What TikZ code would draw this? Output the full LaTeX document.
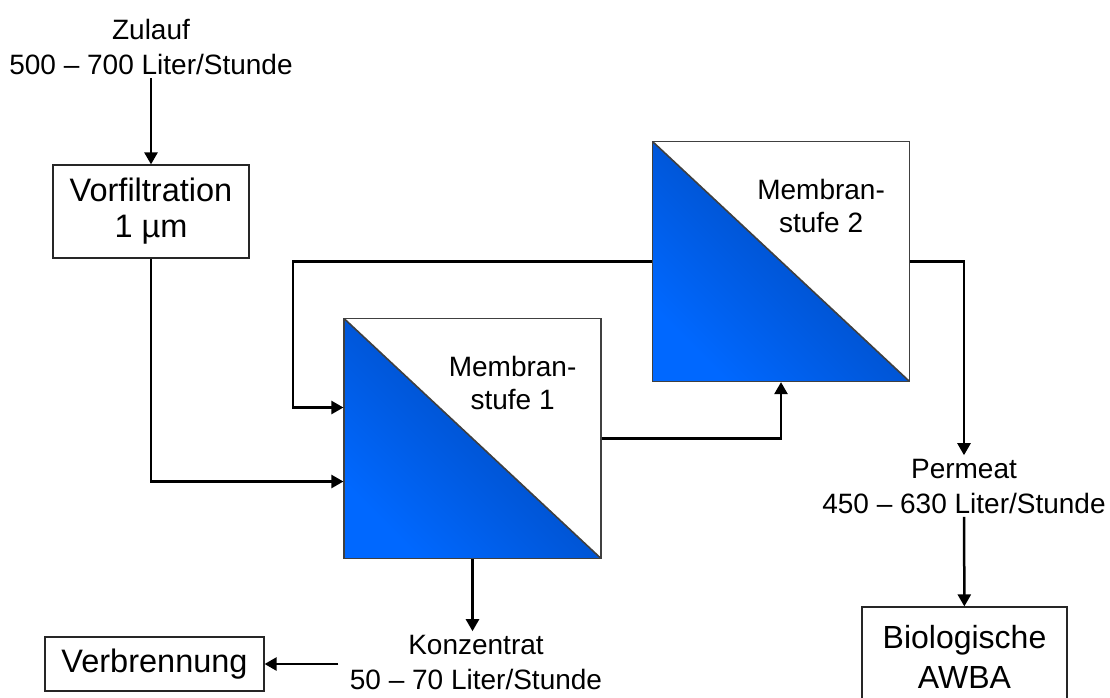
\documentclass[tikz,border=0pt]{standalone}
\usepackage{fontspec}
\setmainfont{Liberation Sans}
\usetikzlibrary{arrows.meta, positioning}
\definecolor{memlight}{RGB}{0,104,255}
\definecolor{memdark}{RGB}{0,68,176}

\begin{document}
\begin{tikzpicture}[x=1pt, y=-1pt,
    box/.style={draw=black!85, line width=1.2pt, fill=white, align=center,
                inner sep=0pt, font=\fontsize{32.5}{36}\selectfont},
    mem/.style={draw=black!75, line width=1.2pt, fill=white, inner sep=0pt,
                minimum width=257pt, minimum height=240pt,
                path picture={
                  \shade[shading=axis, top color=memdark, bottom color=memlight, shading angle=-45]
                    (path picture bounding box.north west) -- (path picture bounding box.south west)
                    -- (path picture bounding box.south east) -- cycle;
                  \draw[line width=1.6pt] (path picture bounding box.north west)
                    -- (path picture bounding box.south east);}},
    memtxt/.style={align=center, font=\fontsize{28}{33}\selectfont},
    lbl/.style={align=center, font=\fontsize{28}{35}\selectfont},
    flow/.style={-{Triangle[length=12pt,width=13pt]}, line width=2.5pt},
]
\useasboundingbox (0,0) rectangle (1110,697);

% boxes
\node[box, minimum width=196pt, minimum height=93pt] (vorf) at (151,211.5) {Vorfiltration\\1 µm};
\node[box, minimum width=219pt, minimum height=54pt] (verbr) at (154.5,664) {Verbrennung};
\node[box, minimum width=205pt, minimum height=100pt, font=\fontsize{32}{40}\selectfont]
   (bio) at (964.5,657) {Biologische\\AWBA};

% membrane stages
\node[mem] (mem1) at (472.5,438.5) {};
\node[mem] (mem2) at (781,261.5) {};
\node[memtxt] (mem1txt) at ([xshift=-89pt,yshift=-65pt]mem1.north east) {Membran-\\stufe 1};
\node[memtxt] (mem2txt) at ([xshift=-89pt,yshift=-65pt]mem2.north east) {Membran-\\stufe 2};

% flow labels
\node[lbl] (zulauf) at (151,47) {Zulauf\\500 – 700 Liter/Stunde};
\node[lbl] (perm) at (964,486) {Permeat\\450 – 630 Liter/Stunde};
\node[lbl] (konz) at (476,662) {Konzentrat\\50 – 70 Liter/Stunde};

% connections
\draw[flow] (zulauf) -- (vorf);
\draw[flow] (vorf.south) |- ([yshift=-43pt]mem1.west);
\draw[flow] (mem2.west) -- ++(-359,0) |- ([yshift=31pt]mem1.west);
\draw[flow] (mem1.east) -| (mem2.south);
\draw[flow] (mem2.east) -| (perm.north);
\draw[flow] (perm) -- (bio);
\draw[flow] (mem1.south) -- (mem1.south |- konz.north);
\draw[flow] ([xshift=-8pt]konz.west |- verbr.east) -- (verbr.east);
\end{tikzpicture}
\end{document}
